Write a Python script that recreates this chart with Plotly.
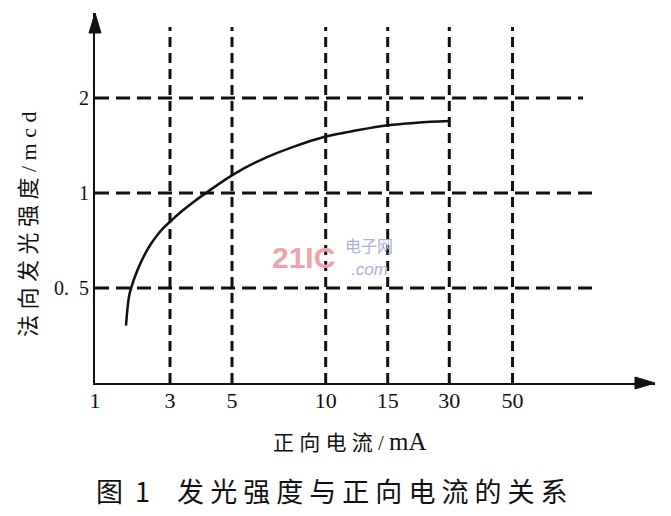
import math
import plotly.graph_objects as go

# ---------------- data ----------------
# x axis is a schematic (non-uniform) current axis: positions in axis units
x_tick_pos = [0, 7.5, 13.7, 23.07, 29.27, 35.43, 41.75]
x_tick_labels = ["1", "3", "5", "10", "15", "30", "50"]

# y axis: luminous intensity (mcd), evenly spaced by factor 2 -> log axis
y_tick_vals = [0.5, 1, 2]
y_tick_labels = ["0.\u00a0\u00a05", "1", "2"]

# curve: position on current axis vs intensity (mcd)
curve_x_pos = [3.1, 3.27, 3.43, 3.6, 4.25, 4.9, 5.55, 6.2, 6.85, 7.5, 8.64, 9.79, 10.93,
               13.73, 16.5, 19.83, 23.07, 26.17, 29.27, 32.17, 35.43]
curve_mcd = [0.380, 0.4375, 0.475, 0.499, 0.570, 0.632, 0.687, 0.734, 0.775, 0.811, 0.874, 0.934, 0.992,
             1.14, 1.27, 1.40, 1.51, 1.58, 1.64, 1.67, 1.69]

# grid extents
v_grid_top = 3.36
h_grid_end = [49.9, 49.9, 48.8]

x_range = [0, 56]
y_range_vals = [0.25, 3.72]

# ---------------- figure ----------------
W, H = 671, 516
L, R, T, B = 95, 16, 13, 133
PW, PH = W - L - R, H - T - B
INK = "#111111"


def px(xp):
    return (xp - L) / PW


def py(yp):
    return (H - B - yp) / PH


fig = go.Figure()

# vertical dashed grid lines
for xv in x_tick_pos[1:]:
    fig.add_trace(go.Scatter(
        x=[xv, xv], y=[y_range_vals[0], v_grid_top], mode="lines",
        line=dict(color=INK, width=3, dash="10px,6px"),
        hoverinfo="skip", showlegend=False))

# horizontal dashed grid lines
for yv, xe in zip(y_tick_vals, h_grid_end):
    fig.add_trace(go.Scatter(
        x=[x_range[0], xe], y=[yv, yv], mode="lines",
        line=dict(color=INK, width=3, dash="14px,7px"),
        hoverinfo="skip", showlegend=False))

# curve
fig.add_trace(go.Scatter(
    x=curve_x_pos, y=curve_mcd, mode="lines",
    line=dict(color=INK, width=2.5, shape="spline", smoothing=1.0),
    hoverinfo="skip", showlegend=False))

fig.update_layout(
    width=W, height=H, autosize=False,
    margin=dict(l=L, r=R, t=T, b=B),
    paper_bgcolor="white", plot_bgcolor="white",
    xaxis=dict(range=x_range, showgrid=False, zeroline=False,
               showline=True, linecolor=INK, linewidth=2,
               tickmode="array", tickvals=x_tick_pos, ticktext=x_tick_labels,
               ticks="", ticklabelstandoff=-3,
               tickfont=dict(family="Liberation Serif", size=22, color=INK),
               fixedrange=True),
    yaxis=dict(type="log", range=[math.log10(y_range_vals[0]), math.log10(y_range_vals[1])],
               showgrid=False, zeroline=False,
               showline=True, linecolor=INK, linewidth=2,
               tickmode="array", tickvals=y_tick_vals, ticktext=y_tick_labels,
               ticks="", tickfont=dict(family="Liberation Serif", size=20, color=INK),
               fixedrange=True),
)

# arrowheads
fig.add_shape(type="path", xref="paper", yref="paper", xsizemode="pixel", ysizemode="pixel",
              xanchor=1, yanchor=0, path="M0,0 L-20,6 L-20,-6 Z",
              fillcolor=INK, line=dict(color=INK, width=1))
fig.add_shape(type="path", xref="paper", yref="paper", xsizemode="pixel", ysizemode="pixel",
              xanchor=0, yanchor=1, path="M0,0 L-6,-20 L6,-20 Z",
              fillcolor=INK, line=dict(color=INK, width=1))

CJK = "Liberation Serif, Noto Sans CJK SC"

# axis titles
fig.add_annotation(xref="paper", yref="paper", x=px(271), y=py(441), xanchor="left", yanchor="middle",
                   text="正 向 电 流 /\u00a0<span style='font-size:25px'>mA</span>", showarrow=False,
                   font=dict(family=CJK, size=21, color=INK))
fig.add_annotation(xref="paper", yref="paper", x=px(29), y=py(224), xanchor="center", yanchor="middle",
                   text="法 向 发 光 强 度 / m c d",
                   textangle=-90, showarrow=False,
                   font=dict(family=CJK, size=22, color=INK))

# caption
fig.add_annotation(xref="paper", yref="paper", x=px(94), y=py(490), xanchor="left", yanchor="middle",
                   text="图\u00a0\u00a01\u3000发 光 强 度 与 正 向 电 流 的 关 系", showarrow=False,
                   font=dict(family="Noto Sans CJK SC", size=27, color=INK))

# watermark
fig.add_annotation(xref="paper", yref="paper", x=px(303), y=py(257), xanchor="center", yanchor="middle",
                   text="<b>21IC</b>", showarrow=False,
                   font=dict(family="Liberation Sans Narrow, Liberation Sans", size=30, color="#f0a3ab"))
fig.add_annotation(xref="paper", yref="paper", x=px(369), y=py(245), xanchor="center", yanchor="middle",
                   text="电子网", showarrow=False,
                   font=dict(family="Noto Sans CJK SC", size=16, color="#aab0d8"))
fig.add_annotation(xref="paper", yref="paper", x=px(369), y=py(269), xanchor="center", yanchor="middle",
                   text="<i>.com</i>", showarrow=False,
                   font=dict(family="Liberation Sans", size=17, color="#aab0d8"))

fig.write_html("out.html", config={"displayModeBar": False},
               post_script="document.body.style.margin='0';")
